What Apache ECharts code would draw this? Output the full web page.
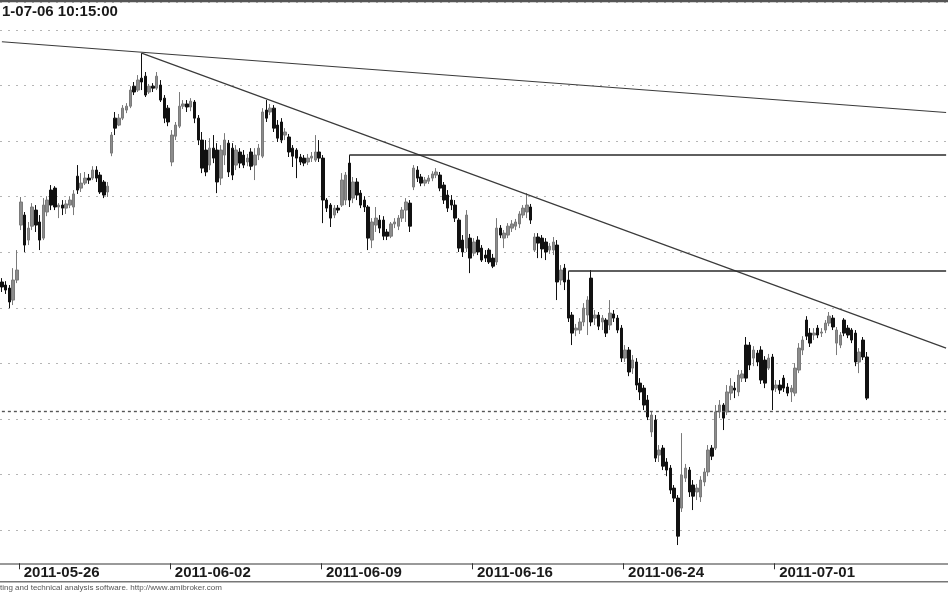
<!DOCTYPE html>
<html>
<head>
<meta charset="utf-8">
<script src="https://cdn.jsdelivr.net/npm/echarts@6.0.0/dist/echarts.min.js"></script>
<style>
html, body { margin: 0; padding: 0; background: #fff; }
#chart { width: 948px; height: 593px; }
</style>
</head>
<body>
<div id="chart"></div>
<script>
const tradeDays = ['2011-05-25', '2011-05-26', '2011-05-27', '2011-05-30', '2011-05-31', '2011-06-01',
  '2011-06-02', '2011-06-03', '2011-06-06', '2011-06-07', '2011-06-08', '2011-06-09', '2011-06-10',
  '2011-06-13', '2011-06-14', '2011-06-15', '2011-06-16', '2011-06-17', '2011-06-20', '2011-06-21',
  '2011-06-22', '2011-06-24', '2011-06-27', '2011-06-28', '2011-06-29', '2011-06-30', '2011-07-01',
  '2011-07-04', '2011-07-05', '2011-07-06']
const sessionTimes = ['09:00', '10:00', '11:00', '12:00', '13:00', '14:00', '15:00', '16:00']
const tickDates = ['2011-05-26', '2011-06-02', '2011-06-09', '2011-06-16', '2011-06-24', '2011-07-01']

// [open, close, low, high]
const candles = [
  // 05-25
  [2809.3, 2807.5, 2805.7, 2810.7], [2808.2, 2806.4, 2805.0, 2809.6], [2807.1, 2802.1, 2799.9, 2808.2],
  [2802.8, 2810.0, 2801.0, 2814.3], [2810.0, 2813.6, 2808.9, 2820.8],
  // 05-26
  [2829.8, 2838.1, 2828.0, 2839.9], [2833.4, 2822.6, 2820.1, 2834.5], [2824.4, 2828.7, 2822.6, 2830.9],
  [2829.4, 2836.3, 2828.0, 2837.7], [2835.2, 2829.8, 2827.3, 2837.0], [2830.9, 2824.4, 2820.8, 2833.4],
  [2825.1, 2837.0, 2824.4, 2839.5], [2834.5, 2838.8, 2833.0, 2840.2],
  // 05-27
  [2842.4, 2837.0, 2835.2, 2844.2], [2843.1, 2836.3, 2835.2, 2843.8], [2836.3, 2837.0, 2832.3, 2837.7],
  [2837.0, 2835.9, 2833.4, 2838.8], [2835.9, 2837.4, 2833.8, 2838.8], [2837.0, 2838.8, 2835.9, 2840.2],
  [2836.3, 2841.0, 2833.4, 2842.4], [2847.4, 2842.4, 2841.0, 2851.4],
  // 05-30
  [2843.1, 2844.9, 2841.7, 2848.5], [2844.9, 2846.7, 2844.2, 2848.9], [2846.7, 2846.0, 2844.6, 2848.2],
  [2846.7, 2849.6, 2846.0, 2851.0], [2849.6, 2846.7, 2845.3, 2851.0], [2847.8, 2841.7, 2841.0, 2848.9],
  [2845.3, 2840.6, 2839.5, 2846.0], [2841.7, 2843.8, 2839.9, 2845.3],
  // 05-31
  [2855.7, 2862.2, 2854.6, 2863.3], [2868.3, 2864.7, 2862.2, 2870.5], [2865.8, 2868.3, 2865.4, 2869.8],
  [2868.3, 2871.9, 2867.6, 2873.0], [2871.2, 2872.6, 2870.1, 2873.7], [2872.6, 2878.4, 2871.9, 2879.8],
  [2879.8, 2877.7, 2876.6, 2881.3], [2878.4, 2882.0, 2877.7, 2883.8],
  // 06-01
  [2882.7, 2881.3, 2878.4, 2891.7], [2883.4, 2876.6, 2875.9, 2884.9], [2877.7, 2879.8, 2877.0, 2880.6],
  [2879.8, 2879.1, 2877.7, 2880.9], [2879.1, 2883.4, 2878.4, 2884.9], [2880.2, 2874.8, 2874.1, 2882.0],
  [2875.5, 2868.3, 2866.5, 2876.6], [2871.9, 2866.9, 2865.4, 2873.0],
  // 06-02
  [2852.5, 2862.2, 2851.0, 2864.0], [2861.8, 2865.8, 2860.4, 2866.9], [2865.4, 2872.6, 2864.7, 2877.7],
  [2872.6, 2873.4, 2871.6, 2874.8], [2873.4, 2872.3, 2870.5, 2874.8], [2872.3, 2874.4, 2870.8, 2875.5],
  [2874.1, 2868.3, 2866.5, 2874.8], [2868.3, 2860.4, 2858.6, 2869.4],
  // 06-03
  [2860.4, 2850.3, 2848.5, 2863.3], [2856.8, 2848.9, 2847.4, 2860.4], [2851.4, 2857.5, 2849.6, 2861.1],
  [2857.5, 2853.9, 2852.1, 2862.2], [2856.8, 2845.3, 2841.3, 2859.3], [2846.7, 2856.8, 2844.2, 2858.6],
  [2855.0, 2860.4, 2851.4, 2862.9], [2859.3, 2848.9, 2847.1, 2860.4],
  // 06-06
  [2857.5, 2847.8, 2846.0, 2859.3], [2851.4, 2856.8, 2849.6, 2858.6], [2856.1, 2852.1, 2850.3, 2857.5],
  [2855.0, 2851.4, 2850.3, 2856.8], [2852.5, 2853.9, 2851.0, 2855.4], [2856.1, 2851.0, 2849.6, 2857.5],
  [2851.4, 2855.0, 2846.0, 2857.5], [2855.0, 2857.5, 2853.2, 2859.0],
  // 06-07
  [2854.6, 2870.5, 2853.9, 2871.9], [2871.2, 2868.3, 2866.9, 2874.8], [2870.5, 2871.9, 2869.4, 2873.4],
  [2871.9, 2864.7, 2863.3, 2873.0], [2865.8, 2861.1, 2859.7, 2867.6], [2866.9, 2860.4, 2859.3, 2868.3],
  [2862.2, 2863.3, 2860.4, 2864.7], [2861.5, 2856.1, 2854.3, 2862.6],
  // 06-08
  [2857.5, 2854.6, 2850.7, 2858.6], [2856.8, 2853.9, 2846.7, 2857.5], [2854.3, 2852.5, 2851.4, 2855.4],
  [2853.9, 2852.1, 2851.0, 2855.0], [2852.5, 2853.9, 2851.4, 2855.4], [2853.9, 2854.6, 2852.5, 2856.1],
  [2853.2, 2856.1, 2852.5, 2862.2], [2856.1, 2853.9, 2852.5, 2860.4],
  // 06-09
  [2853.9, 2838.8, 2830.5, 2855.0], [2838.8, 2835.9, 2834.5, 2839.5], [2837.0, 2832.3, 2829.1, 2837.7],
  [2833.4, 2835.9, 2832.3, 2837.0], [2835.9, 2835.2, 2834.1, 2837.0], [2837.0, 2846.0, 2836.3, 2848.5],
  [2838.8, 2847.8, 2837.0, 2848.9], [2852.1, 2838.8, 2836.3, 2855.0],
  // 06-10
  [2839.5, 2845.3, 2837.7, 2847.1], [2845.3, 2840.6, 2838.8, 2846.7], [2841.3, 2837.0, 2835.9, 2842.4],
  [2838.8, 2836.3, 2834.5, 2840.2], [2836.3, 2825.1, 2820.8, 2837.0], [2824.4, 2830.9, 2821.5, 2832.3],
  [2829.8, 2832.3, 2827.3, 2836.3], [2831.6, 2828.7, 2826.9, 2833.4],
  // 06-13
  [2831.6, 2825.8, 2824.4, 2833.0], [2827.3, 2825.8, 2824.4, 2828.4], [2825.8, 2830.2, 2825.1, 2830.9],
  [2830.2, 2830.9, 2828.7, 2832.3], [2829.4, 2832.3, 2828.0, 2833.4], [2832.3, 2835.2, 2830.9, 2836.3],
  [2835.2, 2838.1, 2830.9, 2839.5], [2837.7, 2829.4, 2827.3, 2838.8],
  // 06-14
  [2843.5, 2850.3, 2842.4, 2851.4], [2849.6, 2846.7, 2845.3, 2851.0], [2847.1, 2844.9, 2843.8, 2848.2],
  [2844.9, 2846.0, 2843.8, 2847.1], [2845.6, 2846.7, 2844.6, 2847.8], [2846.7, 2848.2, 2845.6, 2849.2],
  [2847.8, 2848.9, 2846.7, 2850.3], [2847.8, 2843.1, 2842.0, 2848.9],
  // 06-15
  [2844.2, 2838.8, 2837.4, 2845.3], [2840.6, 2835.9, 2834.5, 2842.4], [2838.8, 2837.0, 2835.2, 2840.6],
  [2837.0, 2832.3, 2830.9, 2838.8], [2831.6, 2821.5, 2820.1, 2832.3], [2824.4, 2820.1, 2818.3, 2826.2],
  [2821.5, 2833.4, 2820.1, 2835.2], [2825.1, 2817.9, 2812.5, 2826.6],
  // 06-16
  [2819.7, 2823.7, 2818.6, 2825.1], [2824.4, 2820.1, 2819.0, 2825.8], [2821.5, 2817.2, 2816.5, 2822.6],
  [2819.0, 2817.9, 2816.5, 2820.8], [2820.8, 2816.5, 2815.8, 2821.5], [2817.9, 2815.0, 2814.3, 2819.4],
  [2816.5, 2828.7, 2815.4, 2832.3], [2828.7, 2826.2, 2825.1, 2829.8],
  // 06-17
  [2825.1, 2826.9, 2821.5, 2828.0], [2826.2, 2829.4, 2825.1, 2830.5], [2828.7, 2830.2, 2827.3, 2831.6],
  [2829.4, 2830.9, 2828.0, 2832.0], [2830.2, 2833.8, 2828.7, 2834.8], [2833.4, 2835.9, 2832.3, 2837.0],
  [2834.5, 2837.0, 2832.3, 2841.3], [2836.3, 2831.6, 2830.2, 2837.4],
  // 06-20
  [2820.8, 2825.5, 2820.1, 2826.9], [2825.5, 2823.3, 2817.9, 2826.9], [2825.1, 2821.2, 2817.9, 2826.2],
  [2823.7, 2820.1, 2817.2, 2825.1], [2820.8, 2822.2, 2819.4, 2823.3], [2820.8, 2823.7, 2819.0, 2825.5],
  [2822.6, 2809.3, 2802.8, 2824.4], [2810.0, 2813.6, 2808.2, 2815.4],
  // 06-21
  [2814.3, 2809.3, 2806.4, 2815.8], [2810.0, 2796.3, 2794.9, 2813.2], [2797.4, 2790.9, 2786.6, 2798.5],
  [2792.0, 2792.7, 2789.8, 2794.2], [2792.0, 2794.9, 2790.6, 2796.3], [2794.9, 2799.9, 2793.4, 2801.7],
  [2797.4, 2802.8, 2790.2, 2804.2], [2810.7, 2794.9, 2793.4, 2813.6],
  // 06-22
  [2796.3, 2797.4, 2793.8, 2799.2], [2797.4, 2793.4, 2792.0, 2798.5], [2794.9, 2796.3, 2792.0, 2797.4],
  [2795.6, 2790.9, 2789.5, 2796.3], [2793.8, 2798.1, 2792.0, 2802.8], [2797.8, 2796.3, 2794.9, 2799.2],
  [2796.3, 2792.0, 2790.9, 2797.4], [2792.7, 2781.9, 2780.5, 2793.8],
  // 06-24
  [2781.9, 2784.8, 2780.5, 2786.6], [2784.8, 2776.9, 2775.4, 2785.9], [2778.3, 2781.2, 2776.2, 2783.0],
  [2780.5, 2772.2, 2770.4, 2781.9], [2772.9, 2769.7, 2766.8, 2774.7], [2771.1, 2765.0, 2763.2, 2772.2],
  [2766.8, 2760.7, 2759.6, 2768.6], [2755.3, 2761.4, 2753.5, 2762.5],
  // 06-27
  [2759.6, 2745.9, 2744.5, 2761.4], [2747.0, 2748.8, 2744.5, 2750.6], [2749.5, 2743.0, 2741.6, 2750.6],
  [2744.5, 2741.6, 2739.4, 2745.9], [2742.3, 2734.4, 2733.0, 2743.4], [2735.1, 2731.5, 2730.1, 2736.2],
  [2731.5, 2717.8, 2714.6, 2732.6], [2727.9, 2739.8, 2726.5, 2754.9],
  // 06-28
  [2738.7, 2742.3, 2737.3, 2743.8], [2741.6, 2733.7, 2731.9, 2742.7], [2736.2, 2732.2, 2727.2, 2738.0],
  [2733.7, 2735.1, 2730.8, 2736.6], [2731.9, 2738.0, 2730.1, 2739.4], [2737.3, 2740.9, 2735.8, 2742.3],
  [2740.9, 2748.8, 2739.4, 2750.6], [2749.5, 2746.6, 2745.2, 2750.6],
  // 06-29
  [2749.5, 2762.5, 2748.8, 2765.0], [2762.5, 2765.0, 2760.3, 2766.8], [2765.0, 2760.3, 2756.0, 2765.7],
  [2762.5, 2769.7, 2761.4, 2772.2], [2769.3, 2771.8, 2766.8, 2774.7], [2771.1, 2770.4, 2767.5, 2773.3],
  [2769.7, 2775.8, 2768.2, 2777.6], [2774.7, 2776.2, 2773.3, 2777.6],
  // 06-30
  [2786.6, 2774.7, 2773.3, 2789.5], [2786.6, 2779.4, 2777.6, 2787.7], [2781.9, 2784.8, 2779.0, 2786.2],
  [2783.7, 2780.5, 2779.0, 2784.8], [2784.8, 2774.0, 2772.6, 2786.2], [2781.2, 2772.9, 2771.1, 2782.6],
  [2778.3, 2781.9, 2777.6, 2783.4], [2782.3, 2770.4, 2763.2, 2783.4],
  // 07-01
  [2771.1, 2772.2, 2769.7, 2774.0], [2772.2, 2770.4, 2769.0, 2774.0], [2774.7, 2771.1, 2769.7, 2775.8],
  [2771.5, 2769.3, 2768.2, 2772.9], [2769.7, 2771.1, 2766.1, 2772.2], [2769.3, 2778.3, 2768.2, 2780.1],
  [2777.6, 2785.5, 2776.5, 2787.3], [2784.8, 2788.4, 2783.0, 2789.8],
  // 07-04
  [2795.6, 2789.8, 2788.4, 2797.0], [2790.9, 2787.3, 2785.9, 2792.7], [2790.2, 2790.9, 2788.4, 2792.7],
  [2792.7, 2790.2, 2789.1, 2793.8], [2790.9, 2791.3, 2789.5, 2792.7], [2792.0, 2794.5, 2790.9, 2795.6],
  [2794.5, 2797.0, 2793.4, 2798.5], [2796.3, 2793.1, 2792.0, 2797.4],
  // 07-05
  [2787.3, 2792.0, 2783.0, 2793.1], [2786.6, 2790.2, 2785.5, 2791.3], [2795.6, 2790.9, 2789.8, 2796.3],
  [2792.7, 2790.2, 2789.1, 2793.8], [2792.0, 2788.4, 2787.3, 2792.7], [2790.9, 2780.5, 2779.0, 2792.0],
  [2780.5, 2784.1, 2776.5, 2785.5], [2788.4, 2782.3, 2781.2, 2789.5],
  // 07-06
  [2782.3, 2767.5, 2766.8, 2784.1]
]

// [fromIndex, fromValue, toIndex, toValue]
const trendLines = [[0, 2895.8, 250, 2870.3], [37, 2891.7, 250, 2785.5]]
// [fromIndex, value]
const levelLines = [[92, 2855.0], [150, 2813.2]]
const supportLevel = 2762.6
const lastSlot = 250

const titleText = '1-07-06 10:15:00'
const footerText = 'ting and technical analysis software. http://www.amibroker.com'

const categories = []
tradeDays.forEach((d, k) => {
  let times = sessionTimes
  if (k === 0) times = sessionTimes.slice(3)
  if (k === tradeDays.length - 1) times = sessionTimes.slice(0, 1)
  times.forEach(t => categories.push(d + ' ' + t))
})
while (categories.length <= lastSlot) categories.push('')

const labelIdx = new Set(tickDates.map(d => categories.indexOf(d + ' 09:00')))

const lineData = []
trendLines.forEach(([i0, v0, i1, v1]) => {
  lineData.push([{ coord: [i0, v0], lineStyle: { color: '#3a3a3a', width: 1.1, type: 'solid' } }, { coord: [i1, v1] }])
})
levelLines.forEach(([i0, v]) => {
  lineData.push([{ coord: [i0, v], lineStyle: { color: '#2a2a2a', width: 1.6, type: 'solid' } }, { coord: [lastSlot, v] }])
})
lineData.push([{ coord: [0, supportLevel], lineStyle: { color: '#555', width: 1.4, type: [3, 3] } }, { coord: [lastSlot, supportLevel] }])

const chart = echarts.init(document.getElementById('chart'))

chart.setOption({
  animation: false,
  backgroundColor: '#fff',
  grid: { left: 0, right: 0, top: 2.3, bottom: 7.4, outerBoundsMode: 'none' },
  xAxis: {
    type: 'category',
    data: categories,
    boundaryGap: true,
    offset: -22.3,
    axisLine: { lineStyle: { color: '#777', width: 1.5 } },
    axisTick: {
      show: true,
      inside: false,
      alignWithLabel: false,
      interval: i => labelIdx.has(i),
      length: 6,
      lineStyle: { color: '#333', width: 1 }
    },
    axisLabel: {
      interval: i => labelIdx.has(i),
      formatter: v => v.slice(0, 10),
      align: 'left',
      margin: 2,
      padding: [0, 0, 0, 3],
      fontFamily: 'Liberation Sans, Arial',
      fontWeight: 'bold',
      fontSize: 15,
      color: '#1a1a1a'
    },
    splitLine: { show: false }
  },
  yAxis: {
    type: 'value',
    min: 2700,
    max: 2910,
    interval: 20,
    axisLine: { show: false },
    axisTick: { show: false },
    axisLabel: { show: false },
    splitLine: { lineStyle: { color: '#b5b5b5', type: [2, 6], width: 1.2 } }
  },
  series: [{
    type: 'candlestick',
    data: candles,
    barWidth: 3,
    itemStyle: { color: '#8c8c8c', color0: '#111', borderColor: '#7a7a7a', borderColor0: '#111', borderWidth: 1 },
    markLine: {
      silent: true,
      symbol: 'none',
      label: { show: false },
      emphasis: { disabled: true },
      data: lineData
    }
  }],
  graphic: [
    { type: 'rect', z: 100, shape: { x: 0, y: 582, width: 948, height: 11 }, style: { fill: '#fff' } },
    { type: 'line', z: 101, shape: { x1: 0, y1: 1, x2: 948, y2: 1 }, style: { stroke: '#555', lineWidth: 2.5 } },
    { type: 'line', z: 101, shape: { x1: 0, y1: 581.7, x2: 948, y2: 581.7 }, style: { stroke: '#777', lineWidth: 1.5 } },
    { type: 'text', z: 101, left: 2, top: 4, style: { text: titleText, font: 'bold 15px "Liberation Sans", Arial', fill: '#1a1a1a' } },
    { type: 'text', z: 101, left: 0, top: 584, style: { text: footerText, font: '8px "Liberation Sans", Arial', fill: '#555' } }
  ]
})
</script>
</body>
</html>
